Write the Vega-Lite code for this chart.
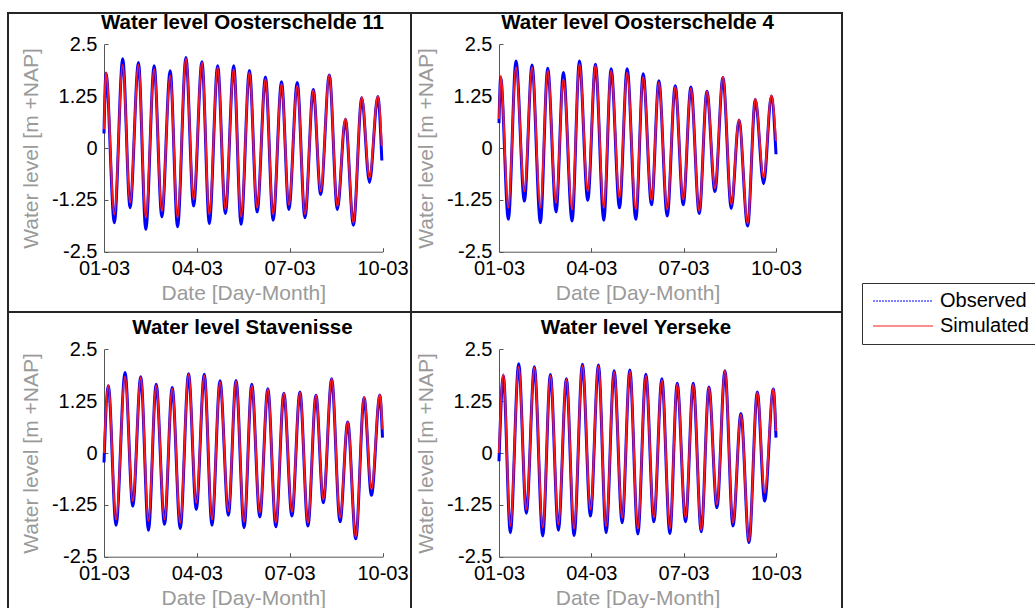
{
  "$schema": "https://vega.github.io/schema/vega-lite/v6.json",
  "padding": {"left": 7, "top": 11, "right": 0, "bottom": 0},
  "background": "white",
  "columns": 2,
  "spacing": 0,
  "bounds": "flush",
  "config": {
    "font": "Liberation Sans",
    "view": {"stroke": "#262626", "strokeWidth": 2},
    "axis": {
      "grid": false,
      "domainColor": "#555555",
      "tickColor": "#555555",
      "domainWidth": 1,
      "tickWidth": 1,
      "tickSize": -4,
      "labelPadding": 11,
      "labelFont": "Liberation Sans",
      "labelFontSize": 20,
      "labelColor": "#000000",
      "labelFlush": false,
      "labelOverlap": false,
      "titleFont": "Liberation Sans",
      "titleFontSize": 21,
      "titleFontWeight": "normal",
      "titleColor": "#9a9a9a"
    },
    "axisX": {"titlePadding": 4},
    "axisY": {"titlePadding": 10},
    "title": {"font": "Liberation Sans", "fontSize": 20.5, "fontWeight": "bold", "color": "#000000", "anchor": "middle", "frame": "group", "baseline": "alphabetic", "dy": 2}
  },
  "datasets": {
    "os11": [
      {"t": "2015-03-01T00:00", "Observed": 0.35, "Simulated": 0.45},
      {"t": "2015-03-01T01:33", "Observed": 1.80, "Simulated": 1.82},
      {"t": "2015-03-01T08:02", "Observed": -1.80, "Simulated": -1.60},
      {"t": "2015-03-01T14:31", "Observed": 2.15, "Simulated": 2.00},
      {"t": "2015-03-01T20:14", "Observed": -1.44, "Simulated": -1.32},
      {"t": "2015-03-02T02:43", "Observed": 2.06, "Simulated": 2.00},
      {"t": "2015-03-02T08:25", "Observed": -1.96, "Simulated": -1.68},
      {"t": "2015-03-02T14:54", "Observed": 1.98, "Simulated": 1.90},
      {"t": "2015-03-02T20:52", "Observed": -1.66, "Simulated": -1.52},
      {"t": "2015-03-03T03:20", "Observed": 1.86, "Simulated": 1.74},
      {"t": "2015-03-03T09:03", "Observed": -1.90, "Simulated": -1.68},
      {"t": "2015-03-03T15:32", "Observed": 2.18, "Simulated": 2.16},
      {"t": "2015-03-03T21:29", "Observed": -1.40, "Simulated": -1.24},
      {"t": "2015-03-04T03:58", "Observed": 2.08, "Simulated": 2.06},
      {"t": "2015-03-04T09:41", "Observed": -1.82, "Simulated": -1.60},
      {"t": "2015-03-04T16:10", "Observed": 1.98, "Simulated": 1.94},
      {"t": "2015-03-04T22:08", "Observed": -1.58, "Simulated": -1.48},
      {"t": "2015-03-05T04:37", "Observed": 1.98, "Simulated": 1.90},
      {"t": "2015-03-05T10:19", "Observed": -1.84, "Simulated": -1.66},
      {"t": "2015-03-05T16:48", "Observed": 1.87, "Simulated": 1.82},
      {"t": "2015-03-05T22:46", "Observed": -1.54, "Simulated": -1.44},
      {"t": "2015-03-06T05:14", "Observed": 1.71, "Simulated": 1.66},
      {"t": "2015-03-06T11:13", "Observed": -1.74, "Simulated": -1.60},
      {"t": "2015-03-06T17:41", "Observed": 1.60, "Simulated": 1.54},
      {"t": "2015-03-06T23:23", "Observed": -1.48, "Simulated": -1.37},
      {"t": "2015-03-07T05:53", "Observed": 1.58, "Simulated": 1.50},
      {"t": "2015-03-07T11:50", "Observed": -1.68, "Simulated": -1.60},
      {"t": "2015-03-07T18:19", "Observed": 1.41, "Simulated": 1.39},
      {"t": "2015-03-08T00:02", "Observed": -1.12, "Simulated": -1.04},
      {"t": "2015-03-08T06:46", "Observed": 1.76, "Simulated": 1.76},
      {"t": "2015-03-08T12:59", "Observed": -1.48, "Simulated": -1.40},
      {"t": "2015-03-08T19:13", "Observed": 0.69, "Simulated": 0.71},
      {"t": "2015-03-09T01:26", "Observed": -1.86, "Simulated": -1.80},
      {"t": "2015-03-09T07:55", "Observed": 1.21, "Simulated": 1.23},
      {"t": "2015-03-09T13:53", "Observed": -0.83, "Simulated": -0.72},
      {"t": "2015-03-09T20:22", "Observed": 1.24, "Simulated": 1.25},
      {"t": "2015-03-09T23:29", "Observed": -0.30, "Simulated": 0.05}
    ],
    "os4": [
      {"t": "2015-03-01T00:00", "Observed": 0.60, "Simulated": 0.70},
      {"t": "2015-03-01T01:18", "Observed": 1.70, "Simulated": 1.74},
      {"t": "2015-03-01T07:17", "Observed": -1.72, "Simulated": -1.44},
      {"t": "2015-03-01T13:16", "Observed": 2.10, "Simulated": 1.94},
      {"t": "2015-03-01T19:47", "Observed": -1.28, "Simulated": -1.04},
      {"t": "2015-03-02T01:46", "Observed": 2.00, "Simulated": 1.94},
      {"t": "2015-03-02T08:16", "Observed": -1.80, "Simulated": -1.44},
      {"t": "2015-03-02T13:59", "Observed": 1.92, "Simulated": 1.86},
      {"t": "2015-03-02T20:30", "Observed": -1.54, "Simulated": -1.32},
      {"t": "2015-03-03T02:14", "Observed": 1.82, "Simulated": 1.66},
      {"t": "2015-03-03T08:59", "Observed": -1.76, "Simulated": -1.48},
      {"t": "2015-03-03T14:43", "Observed": 2.10, "Simulated": 2.02},
      {"t": "2015-03-03T21:13", "Observed": -1.26, "Simulated": -1.04},
      {"t": "2015-03-04T03:13", "Observed": 2.02, "Simulated": 1.99},
      {"t": "2015-03-04T09:43", "Observed": -1.74, "Simulated": -1.44},
      {"t": "2015-03-04T15:26", "Observed": 1.91, "Simulated": 1.86},
      {"t": "2015-03-04T21:57", "Observed": -1.44, "Simulated": -1.20},
      {"t": "2015-03-05T03:56", "Observed": 1.91, "Simulated": 1.82},
      {"t": "2015-03-05T10:42", "Observed": -1.72, "Simulated": -1.48},
      {"t": "2015-03-05T16:25", "Observed": 1.79, "Simulated": 1.71},
      {"t": "2015-03-05T22:56", "Observed": -1.37, "Simulated": -1.26},
      {"t": "2015-03-06T04:39", "Observed": 1.62, "Simulated": 1.58},
      {"t": "2015-03-06T11:10", "Observed": -1.64, "Simulated": -1.48},
      {"t": "2015-03-06T17:25", "Observed": 1.50, "Simulated": 1.47},
      {"t": "2015-03-06T23:39", "Observed": -1.37, "Simulated": -1.24},
      {"t": "2015-03-07T05:38", "Observed": 1.47, "Simulated": 1.44},
      {"t": "2015-03-07T12:08", "Observed": -1.58, "Simulated": -1.52},
      {"t": "2015-03-07T18:08", "Observed": 1.37, "Simulated": 1.36},
      {"t": "2015-03-08T00:23", "Observed": -1.05, "Simulated": -0.97},
      {"t": "2015-03-08T06:37", "Observed": 1.70, "Simulated": 1.71},
      {"t": "2015-03-08T13:08", "Observed": -1.46, "Simulated": -1.36},
      {"t": "2015-03-08T19:07", "Observed": 0.67, "Simulated": 0.69},
      {"t": "2015-03-09T01:53", "Observed": -1.88, "Simulated": -1.82},
      {"t": "2015-03-09T07:52", "Observed": 1.17, "Simulated": 1.19},
      {"t": "2015-03-09T14:22", "Observed": -0.86, "Simulated": -0.72},
      {"t": "2015-03-09T20:22", "Observed": 1.25, "Simulated": 1.27},
      {"t": "2015-03-10T00:00", "Observed": -0.15, "Simulated": 0.17}
    ],
    "stav": [
      {"t": "2015-03-01T00:00", "Observed": -0.23, "Simulated": 0.00},
      {"t": "2015-03-01T03:22", "Observed": 1.62, "Simulated": 1.63},
      {"t": "2015-03-01T09:20", "Observed": -1.74, "Simulated": -1.60},
      {"t": "2015-03-01T16:20", "Observed": 1.94, "Simulated": 1.84},
      {"t": "2015-03-01T22:18", "Observed": -1.28, "Simulated": -1.16},
      {"t": "2015-03-02T04:31", "Observed": 1.84, "Simulated": 1.82},
      {"t": "2015-03-02T10:29", "Observed": -1.86, "Simulated": -1.64},
      {"t": "2015-03-02T16:27", "Observed": 1.66, "Simulated": 1.63},
      {"t": "2015-03-02T22:56", "Observed": -1.72, "Simulated": -1.60},
      {"t": "2015-03-03T04:54", "Observed": 1.58, "Simulated": 1.55},
      {"t": "2015-03-03T11:07", "Observed": -1.82, "Simulated": -1.68},
      {"t": "2015-03-03T17:36", "Observed": 1.91, "Simulated": 1.90},
      {"t": "2015-03-03T23:34", "Observed": -1.36, "Simulated": -1.20},
      {"t": "2015-03-04T05:47", "Observed": 1.90, "Simulated": 1.87},
      {"t": "2015-03-04T11:45", "Observed": -1.74, "Simulated": -1.60},
      {"t": "2015-03-04T17:59", "Observed": 1.74, "Simulated": 1.71},
      {"t": "2015-03-05T00:28", "Observed": -1.50, "Simulated": -1.40},
      {"t": "2015-03-05T06:25", "Observed": 1.75, "Simulated": 1.73},
      {"t": "2015-03-05T12:39", "Observed": -1.80, "Simulated": -1.66},
      {"t": "2015-03-05T18:37", "Observed": 1.66, "Simulated": 1.63},
      {"t": "2015-03-06T00:50", "Observed": -1.54, "Simulated": -1.44},
      {"t": "2015-03-06T07:04", "Observed": 1.55, "Simulated": 1.54},
      {"t": "2015-03-06T13:17", "Observed": -1.78, "Simulated": -1.68},
      {"t": "2015-03-06T19:30", "Observed": 1.44, "Simulated": 1.44},
      {"t": "2015-03-07T01:44", "Observed": -1.52, "Simulated": -1.42},
      {"t": "2015-03-07T07:57", "Observed": 1.47, "Simulated": 1.46},
      {"t": "2015-03-07T14:10", "Observed": -1.76, "Simulated": -1.68},
      {"t": "2015-03-07T20:24", "Observed": 1.39, "Simulated": 1.39},
      {"t": "2015-03-08T02:06", "Observed": -1.20, "Simulated": -1.12},
      {"t": "2015-03-08T08:35", "Observed": 1.79, "Simulated": 1.79},
      {"t": "2015-03-08T15:04", "Observed": -1.66, "Simulated": -1.56},
      {"t": "2015-03-08T21:02", "Observed": 0.75, "Simulated": 0.75},
      {"t": "2015-03-09T03:15", "Observed": -2.07, "Simulated": -2.02},
      {"t": "2015-03-09T09:44", "Observed": 1.33, "Simulated": 1.35},
      {"t": "2015-03-09T15:26", "Observed": -1.02, "Simulated": -0.88},
      {"t": "2015-03-09T21:55", "Observed": 1.39, "Simulated": 1.41},
      {"t": "2015-03-10T00:00", "Observed": 0.37, "Simulated": 0.57}
    ],
    "yers": [
      {"t": "2015-03-01T00:00", "Observed": -0.20, "Simulated": 0.00},
      {"t": "2015-03-01T03:23", "Observed": 1.86, "Simulated": 1.90},
      {"t": "2015-03-01T08:51", "Observed": -1.92, "Simulated": -1.76},
      {"t": "2015-03-01T15:21", "Observed": 2.15, "Simulated": 2.08},
      {"t": "2015-03-01T21:20", "Observed": -1.45, "Simulated": -1.36},
      {"t": "2015-03-02T03:35", "Observed": 2.08, "Simulated": 2.06},
      {"t": "2015-03-02T10:05", "Observed": -2.00, "Simulated": -1.80},
      {"t": "2015-03-02T16:05", "Observed": 1.89, "Simulated": 1.87},
      {"t": "2015-03-02T22:19", "Observed": -1.86, "Simulated": -1.72},
      {"t": "2015-03-03T04:34", "Observed": 1.79, "Simulated": 1.78},
      {"t": "2015-03-03T10:33", "Observed": -1.99, "Simulated": -1.82},
      {"t": "2015-03-03T17:04", "Observed": 2.14, "Simulated": 2.11},
      {"t": "2015-03-03T23:18", "Observed": -1.52, "Simulated": -1.36},
      {"t": "2015-03-04T05:33", "Observed": 2.12, "Simulated": 2.10},
      {"t": "2015-03-04T11:32", "Observed": -1.92, "Simulated": -1.76},
      {"t": "2015-03-04T17:47", "Observed": 1.98, "Simulated": 1.95},
      {"t": "2015-03-05T00:02", "Observed": -1.68, "Simulated": -1.56},
      {"t": "2015-03-05T06:01", "Observed": 2.00, "Simulated": 1.97},
      {"t": "2015-03-05T12:16", "Observed": -1.95, "Simulated": -1.82},
      {"t": "2015-03-05T18:31", "Observed": 1.90, "Simulated": 1.86},
      {"t": "2015-03-06T00:45", "Observed": -1.66, "Simulated": -1.56},
      {"t": "2015-03-06T07:00", "Observed": 1.79, "Simulated": 1.76},
      {"t": "2015-03-06T13:14", "Observed": -1.94, "Simulated": -1.82},
      {"t": "2015-03-06T18:58", "Observed": 1.68, "Simulated": 1.66},
      {"t": "2015-03-07T01:28", "Observed": -1.66, "Simulated": -1.56},
      {"t": "2015-03-07T07:28", "Observed": 1.68, "Simulated": 1.65},
      {"t": "2015-03-07T13:43", "Observed": -1.90, "Simulated": -1.86},
      {"t": "2015-03-07T19:41", "Observed": 1.59, "Simulated": 1.58},
      {"t": "2015-03-08T01:56", "Observed": -1.32, "Simulated": -1.24},
      {"t": "2015-03-08T08:11", "Observed": 1.98, "Simulated": 1.98},
      {"t": "2015-03-08T14:26", "Observed": -1.76, "Simulated": -1.68},
      {"t": "2015-03-08T20:40", "Observed": 0.95, "Simulated": 0.93},
      {"t": "2015-03-09T02:55", "Observed": -2.16, "Simulated": -2.12},
      {"t": "2015-03-09T09:26", "Observed": 1.47, "Simulated": 1.46},
      {"t": "2015-03-09T15:09", "Observed": -1.16, "Simulated": -0.96},
      {"t": "2015-03-09T21:55", "Observed": 1.54, "Simulated": 1.54},
      {"t": "2015-03-10T00:00", "Observed": 0.37, "Simulated": 0.53}
    ]
  },
  "concat": [
    {
      "width": 403, "height": 299,
      "data": {"name": "os11"},
      "transform": [{"fold": ["Observed", "Simulated"], "as": ["series", "level"]}],
      "title": {"text": "Water level Oosterschelde 11", "offset": -18, "dx": 33},
      "encoding": {
        "x": {"field": "t", "type": "temporal",
              "scale": {"domain": [{"year": 2015, "month": 3, "date": 1}, {"year": 2015, "month": 3, "date": 10}], "range": [96, 374.5]},
              "axis": {"offset": -60.3, "format": "%d-%m", "title": "Date [Day-Month]",
                       "values": [{"year": 2015, "month": 3, "date": 1}, {"year": 2015, "month": 3, "date": 4}, {"year": 2015, "month": 3, "date": 7}, {"year": 2015, "month": 3, "date": 10}]}},
        "y": {"field": "level", "type": "quantitative",
              "scale": {"domain": [-2.5, 2.5], "range": [238.7, 31.3]},
              "axis": {"offset": -96, "values": [-2.5, -1.25, 0, 1.25, 2.5], "labelExpr": "'' + datum.value", "title": "Water level [m +NAP]"}},
        "color": {"field": "series", "type": "nominal",
                  "scale": {"domain": ["Observed", "Simulated"], "range": ["#0000ff", "#ff1a1a"]},
                  "legend": {"orient": "none", "legendX": 854, "legendY": 270, "title": null, "symbolType": "stroke", "symbolSize": 3600, "symbolStrokeWidth": 1.2, "symbolOffset": 3, "labelFontSize": 20, "labelColor": "#000000", "labelOffset": 6, "strokeColor": "#333333", "fillColor": "white", "padding": 7, "rowPadding": 3, "clipHeight": 22,
                             "encode": {"symbols": {"update": {"strokeWidth": {"value": 1.2}, "strokeDash": [{"test": "datum.value === 'Observed'", "value": [2, 1]}, {"value": [1, 0]}]}}}}}
      },
      "layer": [
        {"transform": [{"filter": "datum.series === 'Observed'"}], "mark": {"type": "line", "interpolate": "monotone", "strokeWidth": 3}},
        {"transform": [{"filter": "datum.series === 'Simulated'"}], "mark": {"type": "line", "interpolate": "monotone", "strokeWidth": 2}}
      ]
    },
    {
      "width": 431, "height": 299,
      "data": {"name": "os4"},
      "transform": [{"fold": ["Observed", "Simulated"], "as": ["series", "level"]}],
      "title": {"text": "Water level Oosterschelde 4", "offset": -18, "dx": 11},
      "encoding": {
        "x": {"field": "t", "type": "temporal",
              "scale": {"domain": [{"year": 2015, "month": 3, "date": 1}, {"year": 2015, "month": 3, "date": 10}], "range": [88, 365]},
              "axis": {"offset": -60.3, "format": "%d-%m", "title": "Date [Day-Month]",
                       "values": [{"year": 2015, "month": 3, "date": 1}, {"year": 2015, "month": 3, "date": 4}, {"year": 2015, "month": 3, "date": 7}, {"year": 2015, "month": 3, "date": 10}]}},
        "y": {"field": "level", "type": "quantitative",
              "scale": {"domain": [-2.5, 2.5], "range": [238.7, 31.3]},
              "axis": {"offset": -88, "values": [-2.5, -1.25, 0, 1.25, 2.5], "labelExpr": "'' + datum.value", "title": "Water level [m +NAP]"}},
        "color": {"field": "series", "type": "nominal",
                  "scale": {"domain": ["Observed", "Simulated"], "range": ["#0000ff", "#ff1a1a"]}}
      },
      "layer": [
        {"transform": [{"filter": "datum.series === 'Observed'"}], "mark": {"type": "line", "interpolate": "monotone", "strokeWidth": 3}},
        {"transform": [{"filter": "datum.series === 'Simulated'"}], "mark": {"type": "line", "interpolate": "monotone", "strokeWidth": 2}}
      ]
    },
    {
      "width": 403, "height": 299,
      "data": {"name": "stav"},
      "transform": [{"fold": ["Observed", "Simulated"], "as": ["series", "level"]}],
      "title": {"text": "Water level Stavenisse", "offset": -24, "dx": 33},
      "encoding": {
        "x": {"field": "t", "type": "temporal",
              "scale": {"domain": [{"year": 2015, "month": 3, "date": 1}, {"year": 2015, "month": 3, "date": 10}], "range": [96, 374.5]},
              "axis": {"offset": -54.3, "format": "%d-%m", "title": "Date [Day-Month]",
                       "values": [{"year": 2015, "month": 3, "date": 1}, {"year": 2015, "month": 3, "date": 4}, {"year": 2015, "month": 3, "date": 7}, {"year": 2015, "month": 3, "date": 10}]}},
        "y": {"field": "level", "type": "quantitative",
              "scale": {"domain": [-2.5, 2.5], "range": [244.7, 37.3]},
              "axis": {"offset": -96, "values": [-2.5, -1.25, 0, 1.25, 2.5], "labelExpr": "'' + datum.value", "title": "Water level [m +NAP]"}},
        "color": {"field": "series", "type": "nominal",
                  "scale": {"domain": ["Observed", "Simulated"], "range": ["#0000ff", "#ff1a1a"]}}
      },
      "layer": [
        {"transform": [{"filter": "datum.series === 'Observed'"}], "mark": {"type": "line", "interpolate": "monotone", "strokeWidth": 3}},
        {"transform": [{"filter": "datum.series === 'Simulated'"}], "mark": {"type": "line", "interpolate": "monotone", "strokeWidth": 2}}
      ]
    },
    {
      "width": 431, "height": 299,
      "data": {"name": "yers"},
      "transform": [{"fold": ["Observed", "Simulated"], "as": ["series", "level"]}],
      "title": {"text": "Water level Yerseke", "offset": -24, "dx": 9.5},
      "encoding": {
        "x": {"field": "t", "type": "temporal",
              "scale": {"domain": [{"year": 2015, "month": 3, "date": 1}, {"year": 2015, "month": 3, "date": 10}], "range": [88, 365]},
              "axis": {"offset": -54.3, "format": "%d-%m", "title": "Date [Day-Month]",
                       "values": [{"year": 2015, "month": 3, "date": 1}, {"year": 2015, "month": 3, "date": 4}, {"year": 2015, "month": 3, "date": 7}, {"year": 2015, "month": 3, "date": 10}]}},
        "y": {"field": "level", "type": "quantitative",
              "scale": {"domain": [-2.5, 2.5], "range": [244.7, 37.3]},
              "axis": {"offset": -88, "values": [-2.5, -1.25, 0, 1.25, 2.5], "labelExpr": "'' + datum.value", "title": "Water level [m +NAP]"}},
        "color": {"field": "series", "type": "nominal",
                  "scale": {"domain": ["Observed", "Simulated"], "range": ["#0000ff", "#ff1a1a"]}}
      },
      "layer": [
        {"transform": [{"filter": "datum.series === 'Observed'"}], "mark": {"type": "line", "interpolate": "monotone", "strokeWidth": 3}},
        {"transform": [{"filter": "datum.series === 'Simulated'"}], "mark": {"type": "line", "interpolate": "monotone", "strokeWidth": 2}}
      ]
    }
  ]
}
